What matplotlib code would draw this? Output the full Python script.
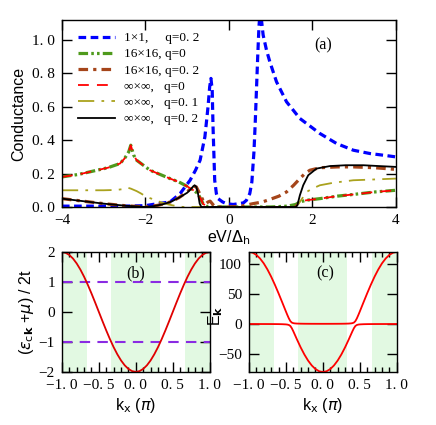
import matplotlib
matplotlib.use("Agg")
import matplotlib.pyplot as plt
from matplotlib.ticker import MultipleLocator

plt.rcParams["mathtext.fontset"] = "dejavusans"

SERIF = ["Liberation Serif", "DejaVu Serif"]
SANS = ["Liberation Sans", "DejaVu Sans"]

# ---- panel (a): conductance vs bias ----
x_1x1 = [-4, -3.5, -3, -2.5, -2, -1.7, -1.41, -1.17, -0.93, -0.8, -0.69, -0.575, -0.5,
         -0.46, -0.43, -0.4, -0.38, -0.34, -0.3, -0.26, -0.15, -0.06, 0.1, 0.25, 0.35, 0.42,
         0.5, 0.55, 0.6, 0.63, 0.66, 0.69, 0.72, 0.75, 0.78, 0.82, 0.9, 0.98, 1.14, 1.38,
         1.7, 2.18, 2.58, 2.98, 3.38, 3.7, 4.0]
g_1x1 = [0.005, 0.005, 0.005, 0.005, 0.008, 0.02, 0.03, 0.08, 0.16, 0.22, 0.28, 0.42, 0.6,
         0.72, 0.77, 0.7, 0.48, 0.16, 0.08, 0.05, 0.03, 0.02, 0.015, 0.02, 0.025, 0.04,
         0.08, 0.15, 0.33, 0.5, 0.7, 0.9, 1.08, 1.18, 1.12, 1.03, 0.94, 0.87, 0.75, 0.63,
         0.53, 0.44, 0.38, 0.34, 0.32, 0.31, 0.30]

x_16_q0 = [-4, -3.6, -3.25, -2.9, -2.61, -2.5, -2.4, -2.35, -2.28, -2.21, -2.05, -1.89,
           -1.65, -1.41, -1.2, -1.01, -0.85, -0.74, -0.68, -0.62, -0.55, -0.4, 0, 0.5, 1.0,
           1.4, 1.6, 1.7, 1.85, 2.18, 2.6, 2.98, 3.5, 4.0]
g_16_q0 = [0.18, 0.195, 0.215, 0.235, 0.26, 0.29, 0.33, 0.37, 0.31, 0.28, 0.25, 0.22,
           0.195, 0.17, 0.15, 0.125, 0.10, 0.08, 0.05, 0.02, 0.005, 0.0, 0.0, 0.0, 0.0,
           0.005, 0.015, 0.03, 0.04, 0.05, 0.065, 0.075, 0.09, 0.10]

x_16_q02 = [-4, -3.5, -3, -2.5, -2.0, -1.7, -1.4, -1.2, -1.0, -0.9, -0.85, -0.78, -0.7,
            -0.62, -0.55, -0.5, -0.45, -0.4, -0.35, -0.3, 0, 0.3, 0.58, 0.8, 0.98, 1.2,
            1.38, 1.55, 1.7, 1.82, 1.94, 2.18, 2.6, 2.98, 3.5, 4.0]
g_16_q02 = [0.05, 0.035, 0.02, 0.008, 0.0, 0.01, 0.03, 0.055, 0.09, 0.115, 0.125, 0.12,
            0.08, 0.04, 0.02, 0.03, 0.035, 0.02, 0.005, 0.0, 0.0, 0.005, 0.02, 0.03, 0.045,
            0.065, 0.09, 0.13, 0.17, 0.20, 0.22, 0.235, 0.24, 0.24, 0.235, 0.225]

x_inf_q0 = [-4, -3.6, -3.25, -2.9, -2.61, -2.5, -2.4, -2.35, -2.28, -2.21, -2.05, -1.89,
            -1.65, -1.41, -1.2, -1.01, -0.85, -0.74, -0.68, -0.62, -0.55, -0.4, 0, 0.5, 1.0,
            1.5, 1.58, 1.7, 1.85, 2.18, 2.6, 2.98, 3.5, 4.0]
g_inf_q0 = [0.18, 0.195, 0.215, 0.235, 0.26, 0.29, 0.33, 0.37, 0.31, 0.28, 0.25, 0.22,
            0.195, 0.17, 0.15, 0.125, 0.10, 0.08, 0.05, 0.02, 0.005, 0.0, 0.0, 0.0, 0.0,
            0.0, 0.0, 0.03, 0.04, 0.05, 0.065, 0.075, 0.09, 0.10]

x_inf_q01 = [-4, -3.5, -3, -2.7, -2.5, -2.42, -2.35, -2.21, -2.1, -1.97, -1.8, -1.65,
             -1.45, -1.25, -1.1, 0, 1.0, 1.6, 1.7, 1.78, 1.86, 2.0, 2.18, 2.5, 2.98, 3.5, 4.0]
g_inf_q01 = [0.10, 0.10, 0.10, 0.102, 0.108, 0.115, 0.11, 0.095, 0.08, 0.06, 0.045, 0.03,
             0.015, 0.005, 0.0, 0.0, 0.0, 0.0, 0.03, 0.06, 0.09, 0.11, 0.13, 0.145, 0.16,
             0.165, 0.17]

x_inf_q02 = [-4, -3.5, -3, -2.5, -2.0, -1.8, -1.6, -1.4, -1.2, -1.0, -0.9, -0.85, -0.82,
             -0.78, -0.74, -0.7, -0.66, -0.6, 0, 1.0, 1.6, 1.64, 1.7, 1.78, 1.9, 2.1, 2.42,
             2.8, 3.22, 3.6, 4.0]
g_inf_q02 = [0.05, 0.035, 0.02, 0.008, 0.0, 0.005, 0.015, 0.03, 0.055, 0.085, 0.11, 0.125,
             0.13, 0.12, 0.08, 0.02, 0.0, 0.0, 0.0, 0.0, 0.0, 0.01, 0.07, 0.13, 0.19, 0.23,
             0.245, 0.25, 0.25, 0.245, 0.24]

labels_a = ["1\u00d71,     q=0. 2", "16\u00d716, q=0", "16\u00d716, q=0. 2",
            "\u221e\u00d7\u221e,   q=0", "\u221e\u00d7\u221e,   q=0. 1", "\u221e\u00d7\u221e,   q=0. 2"]

# ---- panel (b): conduction band ----
kx_b = [-1.0, -0.95, -0.9, -0.85, -0.8, -0.75, -0.7, -0.65, -0.6, -0.55, -0.5, -0.45,
        -0.4, -0.35, -0.3, -0.25, -0.2, -0.15, -0.1, -0.05, 0.0, 0.05, 0.1, 0.15, 0.2,
        0.25, 0.3, 0.35, 0.4, 0.45, 0.5, 0.55, 0.6, 0.65, 0.7, 0.75, 0.8, 0.85, 0.9,
        0.95, 1.0]
eps_b = [2.0, 1.975, 1.902, 1.782, 1.618, 1.414, 1.176, 0.908, 0.618, 0.313, 0.0, -0.313,
         -0.618, -0.908, -1.176, -1.414, -1.618, -1.782, -1.902, -1.975, -2.0, -1.975,
         -1.902, -1.782, -1.618, -1.414, -1.176, -0.908, -0.618, -0.313, 0.0, 0.313, 0.618,
         0.908, 1.176, 1.414, 1.618, 1.782, 1.902, 1.975, 2.0]
dash_levels = [1, -1]

# ---- panel (c): hybridised bands ----
kx_c = [-1.0, -0.95, -0.9, -0.85, -0.8, -0.75, -0.7, -0.65, -0.6, -0.55, -0.5, -0.48,
        -0.46, -0.44, -0.42, -0.4, -0.38, -0.35, -0.3, -0.25, -0.2, -0.15, -0.1, -0.05,
        0.0, 0.05, 0.1, 0.15, 0.2, 0.25, 0.3, 0.35, 0.38, 0.4, 0.42, 0.44, 0.46, 0.48,
        0.5, 0.55, 0.6, 0.65, 0.7, 0.75, 0.8, 0.85, 0.9, 0.95, 1.0]
e_upper = [120.1, 118.9, 115.2, 109.2, 101.1, 90.9, 79.0, 65.6, 51.2, 36.09, 20.77, 14.8,
           9.21, 4.68, 2.25, 1.31, 0.9, 0.61, 0.41, 0.31, 0.26, 0.23, 0.21, 0.2, 0.2, 0.2,
           0.21, 0.23, 0.26, 0.31, 0.41, 0.61, 0.9, 1.31, 2.25, 4.68, 9.21, 14.8, 20.77,
           36.09, 51.2, 65.6, 79.0, 90.9, 101.1, 109.2, 115.2, 118.9, 120.1]
e_lower = [-0.13, -0.13, -0.14, -0.15, -0.16, -0.18, -0.2, -0.24, -0.31, -0.45, -0.77,
           -1.08, -1.74, -3.42, -7.12, -12.21, -17.71, -26.0, -39.19, -51.02, -61.16,
           -69.33, -75.32, -78.97, -80.2, -78.97, -75.32, -69.33, -61.16, -51.02, -39.19,
           -26.0, -17.71, -12.21, -7.12, -3.42, -1.74, -1.08, -0.77, -0.45, -0.31, -0.24,
           -0.2, -0.18, -0.16, -0.15, -0.14, -0.13, -0.13]

# shaded k ranges (outside |eps/2t| < 1)
shade_lo = [-1.0, -1 / 3, 2 / 3]
shade_hi = [-2 / 3, 1 / 3, 1.0]


def fmt_num(v, nd):
    s = f"{abs(v):.{nd}f}".replace(".", ". ")
    return ("\u2212" + s) if v < 0 else s


def style_ticks(ax, length=7):
    ax.tick_params(which="major", direction="in", top=True, right=True, length=length,
                   width=1.0, labelsize=11, pad=5)
    ax.tick_params(which="minor", direction="in", top=True, right=True, length=3.5, width=1.0)
    for sp in ax.spines.values():
        sp.set_linewidth(1.0)


def set_labels(ax, xt, yt, xnd, ynd):
    ax.set_xticks(xt)
    ax.set_yticks(yt)
    ax.set_xticklabels([fmt_num(v, xnd) for v in xt], family=SERIF)
    ax.set_yticklabels([fmt_num(v, ynd) for v in yt], family=SERIF)


fig = plt.figure(figsize=(4.36, 4.25), dpi=100)

# (a)
ax = fig.add_axes([0.142, 0.513, 0.766, 0.440])
ax.plot(x_1x1, g_1x1, color="#0000ff", lw=2.3, dashes=(2.4, 1.4), label=labels_a[0])
ax.plot(x_16_q0, g_16_q0, color="#4f9a1c", lw=2.3, dashes=(3, 1, 0.8, 1, 0.8, 1), label=labels_a[1])
ax.plot(x_16_q02, g_16_q02, color="#a5451a", lw=2.3, dashes=(3, 1.6, 1, 1.6), label=labels_a[2])
ax.plot(x_inf_q0, g_inf_q0, color="#ff0000", lw=1.3, dashes=(6, 4.5), label=labels_a[3])
ax.plot(x_inf_q01, g_inf_q01, color="#aaa21e", lw=1.3, dashes=(9, 4, 1.5, 4), label=labels_a[4])
ax.plot(x_inf_q02, g_inf_q02, color="black", lw=1.3, label=labels_a[5])
ax.set_xlim(-4, 4)
ax.set_ylim(0, 1.12)
style_ticks(ax)
set_labels(ax, [-4, -2, 0, 2, 4], [0, 0.2, 0.4, 0.6, 0.8, 1.0], 0, 1)
ax.set_ylabel("Conductance", family=SANS, fontsize=11.5, labelpad=4)
ax.set_xlabel(r"eV/$\Delta_\mathrm{h}$", family=SANS, fontsize=11.5, labelpad=1)
ax.text(2.25, 0.97, "(a)", family=SERIF, fontsize=11.5, ha="center", va="center")
ax.legend(loc="upper left", frameon=False, prop={"family": SERIF, "size": 9.5},
          handlelength=2.8, handletextpad=0.7, labelspacing=0.3,
          borderaxespad=0.3, bbox_to_anchor=(0.02, 0.985))

# (b)
axb = fig.add_axes([0.142, 0.125, 0.339, 0.282])
for lo, hi in zip(shade_lo, shade_hi):
    axb.axvspan(lo, hi, color="#e2f9e2", lw=0, zorder=0)
for lv in dash_levels:
    axb.axhline(lv, color="#8a2be2", lw=1.5, dashes=(5, 3.5))
axb.plot(kx_b, eps_b, color="#e00000", lw=1.3)
axb.set_xlim(-1, 1)
axb.set_ylim(-2, 2)
style_ticks(axb)
set_labels(axb, [-1.0, -0.5, 0.0, 0.5, 1.0], [-2, -1, 0, 1, 2], 1, 0)
axb.xaxis.set_minor_locator(MultipleLocator(0.1))
axb.text(0.0, 1.3, "(b)", family=SERIF, fontsize=11.5, ha="center", va="center")
axb.set_ylabel(r"($\epsilon_{\mathrm{c}\mathbf{k}}$ +$\mu$) / 2t", family=SANS,
               fontsize=11.5, labelpad=2)
axb.set_xlabel(r"k$_\mathrm{x}$ ($\pi$)", family=SANS, fontsize=11.5, labelpad=3)

# (c)
axc = fig.add_axes([0.571, 0.125, 0.339, 0.282])
for lo, hi in zip(shade_lo, shade_hi):
    axc.axvspan(lo, hi, color="#e2f9e2", lw=0, zorder=0)
axc.plot(kx_c, e_upper, color="#ff0000", lw=1.3)
axc.plot(kx_c, e_lower, color="#ff0000", lw=1.3)
axc.set_xlim(-1, 1)
axc.set_ylim(-80, 120)
style_ticks(axc)
set_labels(axc, [-1.0, -0.5, 0.0, 0.5, 1.0], [-50, 0, 50, 100], 1, 0)
axc.xaxis.set_minor_locator(MultipleLocator(0.1))
axc.text(0.03, 85, "(c)", family=SERIF, fontsize=11.5, ha="center", va="center")
axc.set_ylabel(r"E$_\mathbf{k}$", family=SANS, fontsize=11.5)
axc.yaxis.set_label_coords(-0.165, 0.47)
axc.set_xlabel(r"k$_\mathrm{x}$ ($\pi$)", family=SANS, fontsize=11.5, labelpad=3)

fig.savefig("out.png", dpi=100)
